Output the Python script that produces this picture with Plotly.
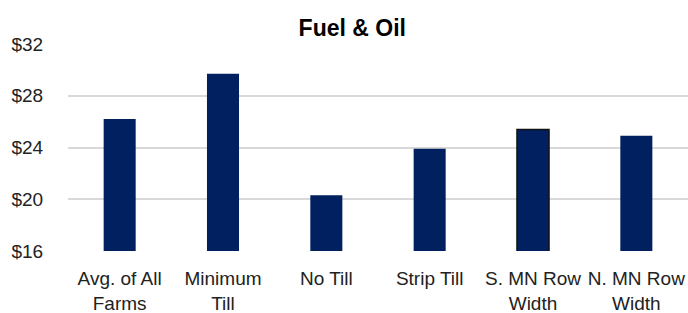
import plotly.graph_objects as go

categories = ["Avg. of All<br>Farms", "Minimum<br>Till", "No Till", "Strip Till", "S. MN Row<br>Width", "N. MN Row<br>Width"]
values = [26.2, 29.7, 20.3, 23.9, 25.4, 24.9]
y_ticks = [16, 20, 24, 28, 32]
y_tick_labels = ["$16", "$20", "$24", "$28", "$32"]
title_text = "Fuel & Oil"

line_colors = ["rgba(0,0,0,0)"] * len(values)
line_widths = [0] * len(values)
line_colors[4] = "#111111"
line_widths[4] = 1.5

fig = go.Figure(go.Bar(
    x=categories, y=values,
    marker=dict(color="#002060", line=dict(color=line_colors, width=line_widths)),
))

FONT = "Liberation Sans, Arial, sans-serif"
fig.update_layout(
    width=688, height=313,
    margin=dict(l=68, r=0, t=44, b=62, autoexpand=False),
    paper_bgcolor="white", plot_bgcolor="white",
    bargap=0.69,
    showlegend=False,
    font=dict(family=FONT, size=19, color="#222222"),
    title=dict(text="<b>" + title_text + "</b>", x=0.512, xref="container", xanchor="center",
               y=1 - 27.5 / 313, yref="container", yanchor="middle",
               font=dict(family=FONT, size=23, color="#000000")),
    xaxis=dict(showgrid=False, showline=False, ticks="outside", ticklen=10, tickcolor="rgba(0,0,0,0)",
               automargin=False, tickfont=dict(size=19, color="#222222")),
    yaxis=dict(range=[16, 32], tickvals=y_ticks, ticktext=y_tick_labels,
               showgrid=True, gridcolor="#D9D9D9", gridwidth=1.5, zeroline=False,
               showline=False, ticks="outside", ticklen=20, tickcolor="rgba(0,0,0,0)",
               automargin=False, tickfont=dict(size=19, color="#222222")),
)

fig.write_html("out.html", config={"displayModeBar": False},
               post_script="document.body.style.margin='0';document.body.style.overflow='hidden';")
